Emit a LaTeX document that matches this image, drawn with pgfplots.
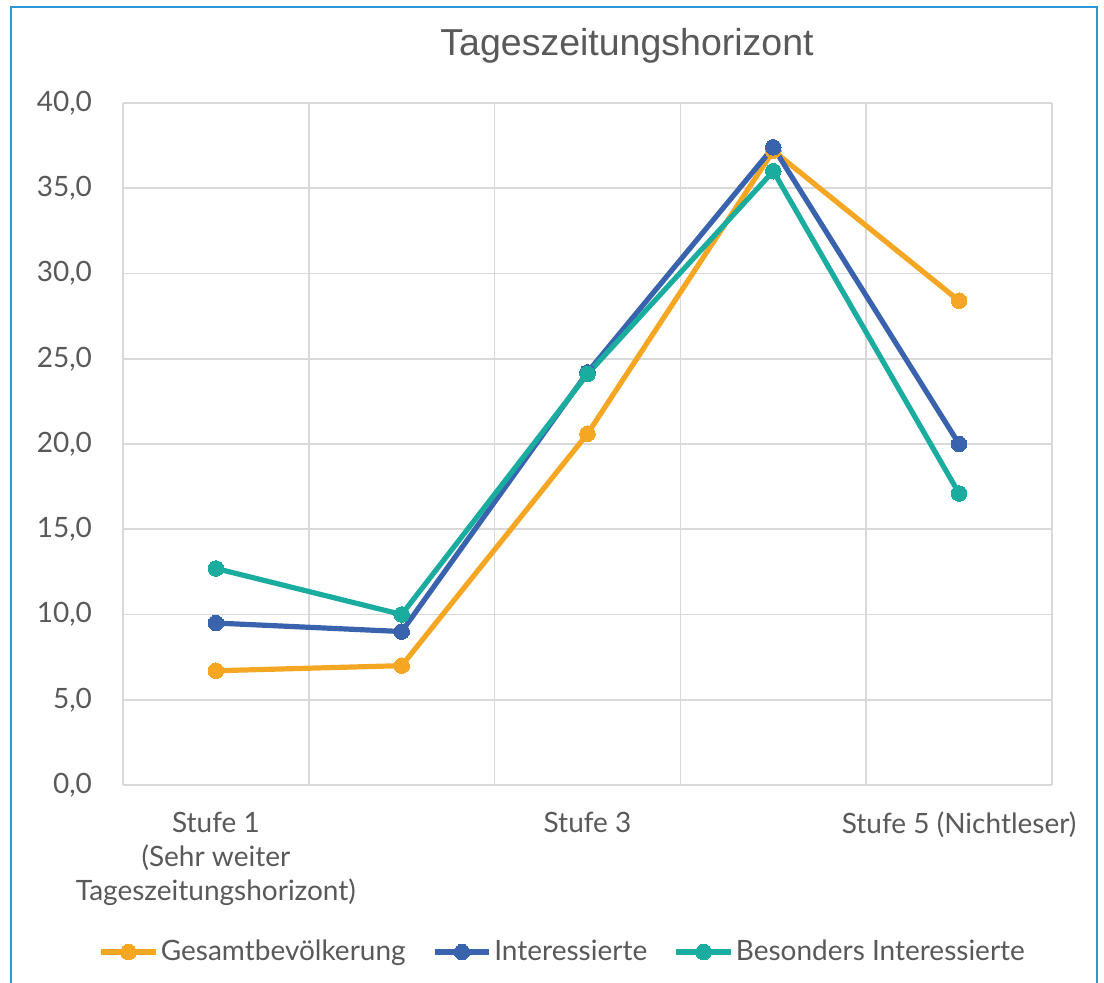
\documentclass[border=0pt]{standalone}
\usepackage{pgfplots}
\pgfplotsset{compat=1.18}
\usepackage{fontspec}
\setmainfont{Lato}
\newfontfamily\titlefont{Liberation Sans}
\definecolor{cOrange}{HTML}{F5A623}
\definecolor{cBlue}{HTML}{3A63AE}
\definecolor{cTeal}{HTML}{1AAD9F}
\definecolor{cGrid}{HTML}{D9D9D9}
\definecolor{cText}{HTML}{595959}
\definecolor{cFrame}{HTML}{2A97D4}
\begin{document}
\begin{tikzpicture}
\useasboundingbox (0,0) rectangle (552pt,491pt);
\draw[cFrame, line width=1pt] (5.5pt,-5pt) -- (5.5pt,487.5pt) -- (548.5pt,487.5pt) -- (548.5pt,-5pt);
\node[text=cText, font=\titlefont\fontsize{18.75}{22}\selectfont] at (313.5pt,468pt) {Tageszeitungshorizont};
\begin{axis}[
  at={(61.5pt,98.5pt)}, anchor=south west,
  scale only axis, width=464.5pt, height=341pt,
  xmin=0.5, xmax=5.5, ymin=0, ymax=40,
  xtick={1,3,5},
  xticklabels={{Stufe 1\\(Sehr weiter\\Tageszeitungshorizont)},{Stufe 3},{Stufe 5 (Nichtleser)}},
  minor xtick={0.5,1.5,2.5,3.5,4.5,5.5},
  ytick={0,5,...,40},
  xmajorgrids=false, xminorgrids=true, ymajorgrids=true,
  grid style={cGrid, line width=0.8pt},
  minor grid style={cGrid, line width=0.8pt},
  axis line style={draw=none},
  major tick length=0pt, minor tick length=0pt,
  tick style={draw=none},
  ticklabel style={text=cText, font=\fontsize{14}{17}\selectfont},
  xticklabel style={align=center, yshift=-10pt},
  yticklabel style={xshift=-12pt},
  /pgf/number format/assume math mode=true,
  yticklabel={\pgfmathprintnumber[fixed,fixed zerofill,precision=1,use comma]{\tick}},
  legend columns=3,
  legend style={at={(0.4736,-0.245)}, anchor=center, draw=none, fill=none,
    font=\fontsize{14}{16}\selectfont, text=cText,
    nodes={inner sep=1.2pt},
    /tikz/every even column/.append style={column sep=12pt}},
  legend cell align=left,
  legend image code/.code={\draw[#1, mark repeat=2, mark phase=2] plot coordinates {(0cm,0cm) (0.48cm,0cm) (0.96cm,0cm)};},
  every axis plot/.append style={line width=2.6pt, mark=*, mark size=3.9pt},
]
\addplot[cOrange, mark options={fill=cOrange, draw=cOrange, line width=0pt}] coordinates {(1,6.7) (2,7.0) (3,20.6) (4,37.2) (5,28.4)};
\addlegendentry{Gesamtbevölkerung}
\addplot[cBlue, mark options={fill=cBlue, draw=cBlue, line width=0pt}] coordinates {(1,9.5) (2,9.0) (3,24.2) (4,37.4) (5,20.0)};
\addlegendentry{Interessierte}
\addplot[cTeal, mark options={fill=cTeal, draw=cTeal, line width=0pt}] coordinates {(1,12.7) (2,10.0) (3,24.1) (4,36.0) (5,17.1)};
\addlegendentry{Besonders Interessierte}
\end{axis}
\end{tikzpicture}
\end{document}
